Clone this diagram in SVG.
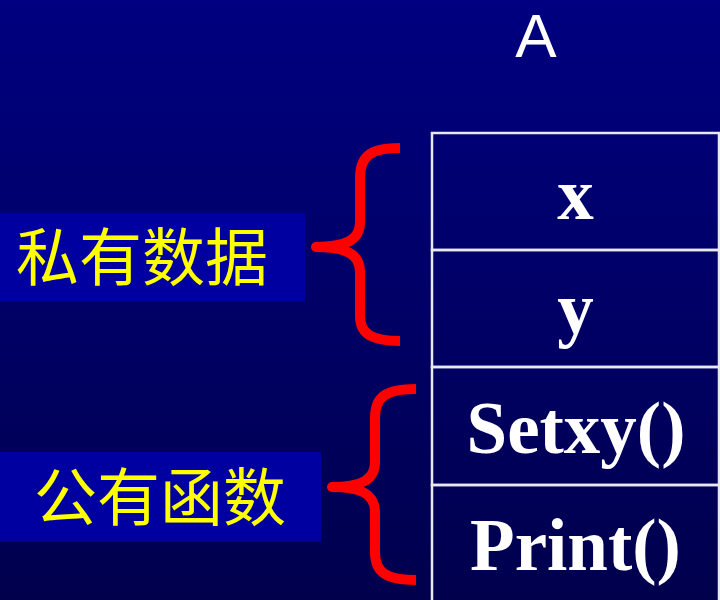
<svg xmlns="http://www.w3.org/2000/svg" width="720" height="600" viewBox="0 0 720 600">
<defs>
<linearGradient id="bg" x1="0" y1="0" x2="0" y2="1">
<stop offset="0" stop-color="#000080"/>
<stop offset="1" stop-color="#00004d"/>
</linearGradient>
<style>
.cell{fill:none;stroke:#e8e8f0;stroke-width:2.5}
.mem{font-family:"Liberation Serif","Times New Roman",serif;font-weight:bold;font-size:73px;fill:#ffffff;text-anchor:middle}
.lbl{fill:#0000a0}
.cjk{font-family:"Noto Sans CJK SC","Noto Sans CJK TC",sans-serif;font-size:63px;fill:#ffff00}
.brace{fill:none;stroke:#ff0000;stroke-width:10;stroke-linejoin:round;stroke-linecap:butt}
</style>
</defs>
<rect x="0" y="0" width="720" height="600" fill="url(#bg)"/>
<g id="title">
<text x="536" y="57" font-family="Liberation Sans, Arial, sans-serif" font-size="62" fill="#ffffff" text-anchor="middle">A</text>
</g>
<g id="class-A">
<g id="cell-x"><rect class="cell" x="432" y="133" width="287" height="117"/><text class="mem" x="575.5" y="219">x</text></g>
<g id="cell-y"><rect class="cell" x="432" y="250" width="287" height="117"/><text class="mem" x="575.5" y="333">y</text></g>
<g id="cell-setxy"><rect class="cell" x="432" y="367" width="287" height="118"/><text class="mem" x="576" y="453">Setxy()</text></g>
<g id="cell-print"><rect class="cell" x="432" y="485" width="287" height="130"/><text class="mem" x="575.5" y="570">Print()</text></g>
</g>
<g id="label-private">
<rect class="lbl" x="0" y="213" width="305" height="88"/>
<text class="cjk" x="16" y="280">私有数据</text>
</g>
<g id="label-public">
<rect class="lbl" x="0" y="452" width="321" height="90"/>
<text class="cjk" x="34" y="520">公有函数</text>
</g>
<g id="connectors">
<path class="brace" d="M400,148 C372,148 360,155 360,178 L360,222 C360,240 346,247 316,247 C346,247 360,254 360,272 L360,316 C360,334 372,341 400,341"/>
<path class="brace" d="M416,389 C387,389 375,396 375,418 L375,462 C375,480 361,487 332,487 C361,487 375,494 375,512 L375,552 C375,573 387,580 416,580"/>
</g>
</svg>
